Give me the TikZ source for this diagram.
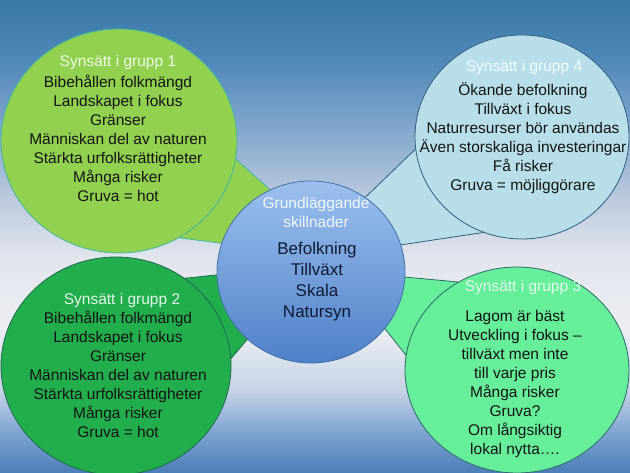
\documentclass[tikz,border=0pt]{standalone}
\usepackage{fontspec}
\setmainfont{Liberation Sans}
\usetikzlibrary{shapes.geometric}
\definecolor{bgA}{HTML}{3A79A7}
\definecolor{bgB}{HTML}{4F88B8}
\definecolor{bgC}{HTML}{7BA3CB}
\definecolor{bgD}{HTML}{BCCADD}
\definecolor{bgE}{HTML}{E3E6EE}
\definecolor{bgF}{HTML}{ECEEF3}
\definecolor{bgG}{HTML}{C6D3E6}
\definecolor{bgH}{HTML}{80A6D2}
\definecolor{bgI}{HTML}{4A7EB8}
\definecolor{gAfill}{HTML}{92D050}
\definecolor{gAline}{HTML}{3DB8A0}
\definecolor{gBfill}{HTML}{22AE4C}
\definecolor{gBline}{HTML}{1E6A50}
\definecolor{gCfill}{HTML}{66EE9B}
\definecolor{gCline}{HTML}{2D6A6A}
\definecolor{gDfill}{HTML}{B8DFE9}
\definecolor{gDline}{HTML}{2F5F80}
\definecolor{midtop}{HTML}{9BC0EE}
\definecolor{midbot}{HTML}{4E80C8}
\definecolor{midline}{HTML}{4470A8}
\definecolor{bodytxt}{HTML}{141414}
\definecolor{midtxt}{HTML}{0D1A33}
\pgfdeclareverticalshading{bgshade}{100bp}{color(0bp)=(bgI); color(25bp)=(bgI); color(29.5bp)=(bgH); color(33.8bp)=(bgG); color(40.1bp)=(bgF); color(47.5bp)=(bgE); color(53.9bp)=(bgD); color(62.3bp)=(bgC); color(68.7bp)=(bgB); color(75bp)=(bgA); color(100bp)=(bgA)}
\begin{document}
\begin{tikzpicture}[x=1pt,y=-1pt,
  bubble/.style={ellipse, draw, line width=0.8pt, inner sep=0pt},
  tail/.style={line width=0.8pt},
  ttl/.style={font=\fontsize{15.5}{19}\selectfont, align=center, inner sep=0pt},
  body/.style={font=\fontsize{15.5}{19}\selectfont, align=center, inner sep=0pt, text=bodytxt},
  midbody/.style={font=\fontsize{17}{21}\selectfont, align=center, inner sep=0pt, text=midtxt}]
\useasboundingbox (0,0) rectangle (630,473);
\fill[shading=bgshade] (0,0) rectangle (630,473);
% tail apex points
\coordinate (a1) at (350,260);
\coordinate (a2) at (310,265);
\coordinate (a3) at (339,271);
\coordinate (a4) at (300,260);
\coordinate (b1a) at (198,126);
\coordinate (b1b) at (150,234);
\coordinate (b2a) at (150,282);
\coordinate (b2b) at (213,380);
\coordinate (b3a) at (480,284);
\coordinate (b3b) at (440,398);
\coordinate (b4a) at (450,116);
\coordinate (b4b) at (520,227);
% tails
\filldraw[tail, fill=gAfill, draw=gAline] (a1) -- (b1a) -- (b1b) -- cycle;
\filldraw[tail, fill=gBfill, draw=gBline] (a2) -- (b2a) -- (b2b) -- cycle;
\filldraw[tail, fill=gCfill, draw=gCline] (a3) -- (b3a) -- (b3b) -- cycle;
\filldraw[tail, fill=gDfill, draw=gDline] (a4) -- (b4a) -- (b4b) -- cycle;
% bubbles
\node[bubble, fill=gAfill, draw=gAline, minimum width=236, minimum height=224] (g1) at (119,141) {};
\node[bubble, fill=gBfill, draw=gBline, minimum width=230, minimum height=218] (g2) at (116,366) {};
\node[bubble, fill=gCfill, draw=gCline, minimum width=224, minimum height=206] (g3) at (517,370) {};
\node[bubble, fill=gDfill, draw=gDline, minimum width=214, minimum height=204] (g4) at (522,137) {};
\node[bubble, draw=midline, top color=midtop, bottom color=midbot, minimum width=188, minimum height=182] (mid) at (311,272) {};
% texts
\node[ttl, text=white!85!gAfill] (g1t) at (118,62) {Synsätt i grupp 1};
\node[body] (g1b) at (118,138.5) {Bibehållen folkmängd\\Landskapet i fokus\\Gränser\\Människan del av naturen\\Stärkta urfolksrättigheter\\Många risker\\Gruva = hot};
\node[ttl, text=white!88!gBfill] (g2t) at (122,300) {Synsätt i grupp 2};
\node[body] (g2b) at (118,374.5) {Bibehållen folkmängd\\Landskapet i fokus\\Gränser\\Människan del av naturen\\Stärkta urfolksrättigheter\\Många risker\\Gruva = hot};
\node[ttl, text=white!80!gCfill] (g3t) at (523,287) {Synsätt i grupp 3};
\node[body] (g3b) at (515,384) {Lagom är bäst\\Utveckling i fokus –\\tillväxt men inte\\till varje pris\\Många risker\\Gruva?\\Om långsiktig\\lokal nytta….};
\node[ttl, text=white!80!gDfill] (g4t) at (524,67) {Synsätt i grupp 4};
\node[body] (g4b) at (523,138.5) {Ökande befolkning\\Tillväxt i fokus\\Naturresurser bör användas\\Även storskaliga investeringar\\Få risker\\Gruva = möjliggörare};
\node[ttl, text=white!85!midtop] (midt) at (316,212.5) {Grundläggande\\skillnader};
\node[midbody] (midb) at (317,281.5) {Befolkning\\Tillväxt\\Skala\\Natursyn};
\end{tikzpicture}
\end{document}
